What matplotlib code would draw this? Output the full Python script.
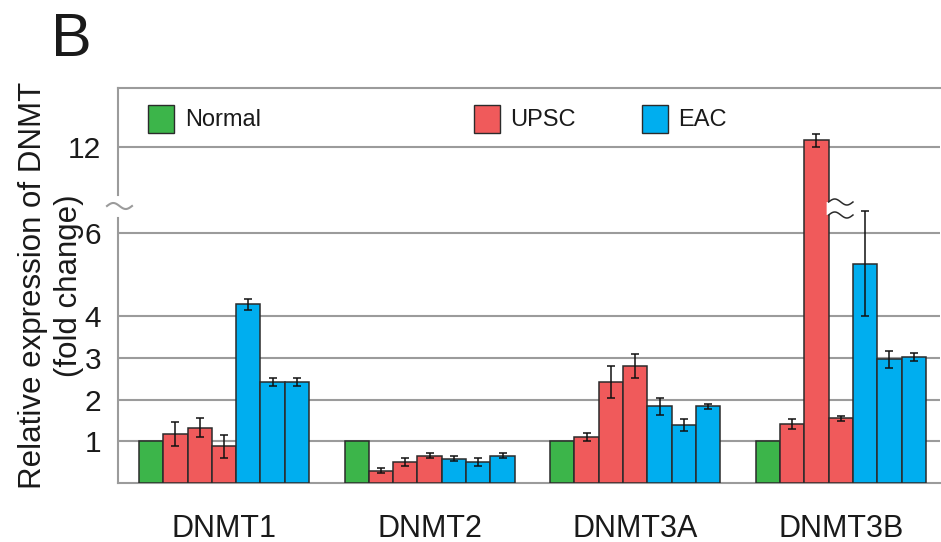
import numpy as np
import matplotlib
matplotlib.use("Agg")
import matplotlib.pyplot as plt
from matplotlib.patches import Rectangle, Polygon
from matplotlib.transforms import blended_transform_factory

plt.rcParams['font.family'] = ['Liberation Sans', 'DejaVu Sans']

# ---------------- data ----------------
genes = ["DNMT1", "DNMT2", "DNMT3A", "DNMT3B"]
series_names = ["Normal", "UPSC", "EAC"]
normal = [1.0, 1.0, 1.0, 1.0]
upsc = [[1.17, 1.33, 0.88], [0.30, 0.51, 0.66], [1.10, 2.43, 2.81], [1.41, 12.6, 1.55]]
upsc_err = [[0.29, 0.23, 0.27], [0.07, 0.10, 0.07], [0.10, 0.38, 0.29], [0.12, 0.6, 0.06]]
eac = [[4.29, 2.43, 2.43], [0.58, 0.51, 0.66], [1.84, 1.40, 1.84], [5.26, 2.97, 3.03]]
eac_err = [[0.13, 0.10, 0.10], [0.06, 0.10, 0.07], [0.21, 0.14, 0.06], [1.26, 0.20, 0.10]]
yticks = [1, 2, 3, 4, 6, 12]
ylabel = "Relative expression of DNMT\n(fold change)"
panel = "B"

# ---------------- style ----------------
GREEN = "#3cb54a"
RED = "#f05a5b"
BLUE = "#00aeef"
EDGE = "#2b2b2b"
GRID = "#9b9b9b"
colors = [GREEN, RED, BLUE]

# broken axis scale
BRK = 6.62
S = 0.2677


def fwd(v):
    v = np.asarray(v, dtype=float)
    return np.where(v <= BRK, v, BRK + (v - BRK) * S)


def inv(u):
    u = np.asarray(u, dtype=float)
    return np.where(u <= BRK, u, BRK + (u - BRK) / S)


W, H = 941, 542
fig = plt.figure(figsize=(W / 100, H / 100), dpi=100)
AX_L, AX_R, AX_T, AX_B = 118, 940, 88, 483
ax = fig.add_axes([AX_L / W, (H - AX_B) / H, (AX_R - AX_L) / W, (AX_B - AX_T) / H])
ax.set_yscale('function', functions=(fwd, inv))

def ay(py):
    return (AX_B - py) / (AX_B - AX_T)

def axx(px):
    return (px - AX_L) / (AX_R - AX_L)

w = 0.1182
x = np.arange(len(genes))

ax.bar(x - 3 * w, normal, w, color=GREEN, edgecolor=EDGE, linewidth=1.1, zorder=3)
for j in range(3):
    xs = x + (j - 2) * w
    vals = [upsc[i][j] for i in range(len(genes))]
    errs = [upsc_err[i][j] for i in range(len(genes))]
    ax.bar(xs, vals, w, color=RED, edgecolor=EDGE, linewidth=1.1, zorder=3)
    ax.errorbar(xs, vals, yerr=errs, fmt='none', ecolor='#111111', elinewidth=1.1,
                capsize=3, capthick=1.1, zorder=4)
for j in range(3):
    xs = x + (j + 1) * w
    vals = [eac[i][j] for i in range(len(genes))]
    errs = [eac_err[i][j] for i in range(len(genes))]
    ax.bar(xs, vals, w, color=BLUE, edgecolor=EDGE, linewidth=1.1, zorder=3)
    ax.errorbar(xs, vals, yerr=errs, fmt='none', ecolor='#111111', elinewidth=1.1,
                capsize=3, capthick=1.1, zorder=4)

unit_px = 205.6
xl0 = -(224 - AX_L) / unit_px
ax.set_xlim(xl0, xl0 + (AX_R - AX_L) / unit_px)
ax.set_ylim(0, float(inv(9.48)))

ax.set_yticks(yticks)
ax.set_yticklabels([str(t) for t in yticks])
ax.set_xticks(x)
ax.set_xticklabels(genes)
ax.tick_params(axis='y', length=0, pad=12, labelsize=21.5, labelcolor='#1a1a1a')
ax.tick_params(axis='x', length=0, pad=22, labelsize=22, labelcolor='#1a1a1a')

ax.yaxis.grid(True, color=GRID, linewidth=1.5)
ax.set_axisbelow(True)
for s in ['right', 'left']:
    ax.spines[s].set_visible(False)
for s in ['top', 'bottom']:
    ax.spines[s].set_color(GRID)
    ax.spines[s].set_linewidth(1.5)

# left spine with break
at = ax.transAxes
ax.plot([0, 0], [1, ay(195)], color=GRID, lw=1.5, transform=at, clip_on=False, zorder=2)
ax.plot([0, 0], [ay(218), 0], color=GRID, lw=1.5, transform=at, clip_on=False, zorder=2)
tt = np.linspace(0, 1, 50)
ax.plot(axx(107 + 25 * tt), ay(206) + (3 / 395) * np.sin(2 * np.pi * tt), color=GRID,
        lw=1.5, transform=at, clip_on=False)

# break on the tall bar
bt = blended_transform_factory(ax.transData, ax.transAxes)
xc = x[3] + (2 - 2) * w - 0 * w
xc = x[3] - 1 * w + w  # UPSC second bar of DNMT3B
xc = x[3] + (1 - 2) * w + w
xc = x[3] + 0 * w
xbl, xbr = xc - w / 2, xc + w / 2
pad = 2.0 / unit_px
xw = xbl + (xbr - xbl) * tt
amp = 3 / 395
ytop = ay(202) + amp * np.sin(2 * np.pi * tt)
ybot = ay(215) + amp * np.sin(2 * np.pi * tt)
poly_x = np.concatenate([[xbl - pad], xw, [xbr + pad, xbr + pad], xw[::-1], [xbl - pad]])
poly_y = np.concatenate([[ytop[0]], ytop, [ytop[-1], ybot[-1]], ybot[::-1], [ybot[0]]])
ax.add_patch(Polygon(np.column_stack([poly_x, poly_y]), closed=True, facecolor='white',
                     edgecolor='none', transform=bt, zorder=5))
ax.plot(xw, ytop, color=EDGE, lw=1.1, transform=bt, zorder=6)
ax.plot(xw, ybot, color=EDGE, lw=1.1, transform=bt, zorder=6)

# legend
leg_sq = [148, 474, 642]
leg_tx = [185, 510, 678]
for name, c, sx, tx in zip(series_names, colors, leg_sq, leg_tx):
    ax.add_patch(Rectangle((axx(sx), ay(133)), 26 / 822, 28 / 395, transform=at,
                           facecolor=c, edgecolor=EDGE, linewidth=1.0, zorder=7, clip_on=False))
    ax.text(axx(tx), ay(126), name, transform=at, fontsize=17, va='baseline', ha='left',
            color='#1a1a1a', zorder=7)

ax.set_ylabel(ylabel, fontsize=22.5, linespacing=1.3, va='center', color='#1a1a1a')
ax.yaxis.set_label_coords(axx(51), 0.5)

fig.text(51 / W, (H - 56) / H, panel, fontsize=44, va='baseline', ha='left', color='#1a1a1a')

fig.savefig("out.png", dpi=100)
